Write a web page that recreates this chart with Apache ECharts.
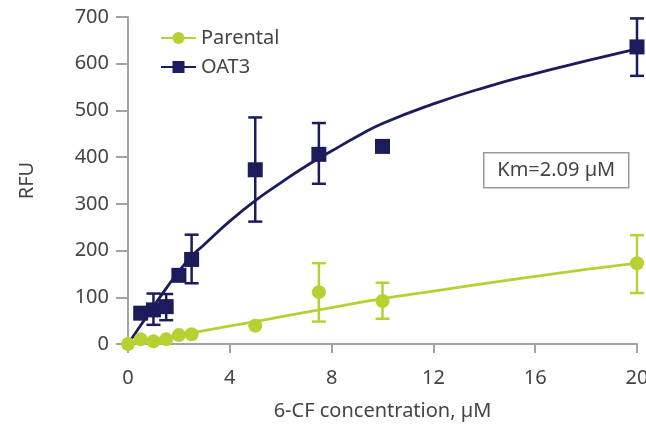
<!DOCTYPE html>
<html>
<head>
<meta charset="utf-8">
<script src="https://cdn.jsdelivr.net/npm/echarts@6/dist/echarts.min.js"></script>
<style>html,body{margin:0;padding:0;background:#fff;}#c{width:646px;height:426px;}</style>
</head>
<body>
<div id="c"></div>
<script>
// ---- data ----
const xTicks = [0, 4, 8, 12, 16, 20];
const yTicks = [0, 100, 200, 300, 400, 500, 600, 700];

const parentalX    = [0, 0.5, 1, 1.5, 2, 2.5, 5, 7.5, 10, 20];
const parentalMean = [0, 10, 6, 10, 19, 21, 39, 111, 92, 173];
const parentalLow  = [null, null, null, null, null, null, null, 48, 54, 109];
const parentalHigh = [null, null, null, null, null, null, null, 173, 131, 233];

const oat3X    = [0.5, 1, 1.5, 2, 2.5, 5, 7.5, 10, 20];
const oat3Mean = [66, 73, 80, 147, 181, 373, 406, 423, 636];
const oat3Low  = [null, 41, 51, null, 130, 262, 343, 415, 574];
const oat3High = [null, 108, 107, null, 234, 485, 473, 431, 697];

// fitted curves
const parentalFitX = [0, 2.5, 5, 7.5, 10, 12, 16, 20];
const parentalFitY = [0, 24, 48, 73, 97, 113, 145, 173];
const oat3FitX = [0, 0.5, 1, 1.5, 2, 2.5, 3, 4, 5, 6, 7, 8, 9, 10, 12, 14, 16, 18, 20];
const oat3FitY = [0, 40, 80, 119, 156, 188, 213, 263, 307, 345, 381, 413, 444, 472, 514, 549, 579, 606, 632];

const kmText = 'Km=2.09 µM';
const xName = '6-CF concentration, µM';
const yName = 'RFU';

const GREEN = '#b6d232';
const NAVY = '#1c1b5b';
const AXIS = '#a3a3a3';
const TEXT = '#444444';
const FONT = 'Noto Sans';

function zip(a, b) { return a.map((v, i) => [v, b[i]]); }
function errData(x, lo, hi) {
  const out = [];
  x.forEach((v, i) => { if (lo[i] != null && hi[i] != null) out.push([v, lo[i], hi[i]]); });
  return out;
}
function errRender(color) {
  return function (params, api) {
    const x = api.value(0), lo = api.value(1), hi = api.value(2);
    const p1 = api.coord([x, lo]), p2 = api.coord([x, hi]);
    const w = 7;
    const st = { stroke: color, lineWidth: 2.5 };
    return {
      type: 'group',
      children: [
        { type: 'line', shape: { x1: p1[0], y1: p1[1], x2: p2[0], y2: p2[1] }, style: st },
        { type: 'line', shape: { x1: p1[0] - w, y1: p1[1], x2: p1[0] + w, y2: p1[1] }, style: st },
        { type: 'line', shape: { x1: p2[0] - w, y1: p2[1], x2: p2[0] + w, y2: p2[1] }, style: st }
      ]
    };
  };
}

const chart = echarts.init(document.getElementById('c'), null, { renderer: 'canvas' });
chart.setOption({
  backgroundColor: '#ffffff',
  animation: false,
  textStyle: { fontFamily: FONT },
  grid: { left: 128, right: 9, top: 17, bottom: 82, containLabel: false, outerBoundsMode: 'none' },
  legend: {
    orient: 'vertical',
    left: 155,
    top: 23,
    itemWidth: 35,
    itemHeight: 15,
    itemGap: 9,
    data: ['Parental', 'OAT3'],
    textStyle: { fontSize: 20, color: TEXT, fontFamily: FONT }
  },
  xAxis: {
    type: 'value',
    min: 0, max: 20, interval: 4,
    name: xName,
    nameLocation: 'middle',
    nameGap: 57,
    nameTextStyle: { fontSize: 20, color: TEXT, fontFamily: FONT },
    axisLine: { show: true, onZero: false, lineStyle: { color: AXIS, width: 2 } },
    axisTick: { show: true, length: 9, lineStyle: { color: AXIS, width: 2 } },
    axisLabel: { fontSize: 20, color: TEXT, margin: 24, fontFamily: FONT, hideOverlap: false,
      formatter: v => xTicks.includes(v) ? String(v) : '' },
    splitLine: { show: false }
  },
  yAxis: {
    type: 'value',
    min: 0, max: 700, interval: 100,
    name: yName,
    nameLocation: 'middle',
    nameRotate: 90,
    nameGap: 91,
    nameTextStyle: { fontSize: 20, color: TEXT, fontFamily: FONT },
    axisLine: { show: true, lineStyle: { color: AXIS, width: 2 } },
    axisTick: { show: true, length: 12, lineStyle: { color: AXIS, width: 2 } },
    axisLabel: { fontSize: 20, color: TEXT, margin: 19, fontFamily: FONT,
      formatter: v => yTicks.includes(v) ? String(v) : '' },
    splitLine: { show: false }
  },
  graphic: [{
    type: 'group',
    left: 483, top: 152,
    children: [
      { type: 'rect', shape: { x: 0, y: 0, width: 145, height: 35 },
        style: { fill: '#ffffff', stroke: '#9a9a9a', lineWidth: 1.5 } },
      { type: 'text', x: 72.5, y: 18,
        style: { text: kmText, fill: TEXT, font: '20px "Noto Sans"', align: 'center', verticalAlign: 'middle' } }
    ]
  }],
  series: [
    {
      name: 'Parental', type: 'line', data: zip(parentalFitX, parentalFitY),
      smooth: true, symbol: 'circle', showSymbol: false, symbolSize: 14,
      lineStyle: { color: GREEN, width: 2.8 }, itemStyle: { color: GREEN }, z: 2, silent: true
    },
    {
      name: 'OAT3', type: 'line', data: zip(oat3FitX, oat3FitY),
      smooth: true, symbol: 'rect', showSymbol: false, symbolSize: 15,
      lineStyle: { color: NAVY, width: 2.8 }, itemStyle: { color: NAVY }, z: 2, silent: true
    },
    {
      name: 'Parental', type: 'custom', renderItem: errRender(GREEN),
      data: errData(parentalX, parentalLow, parentalHigh), encode: { x: 0, y: [1, 2] }, z: 3
    },
    {
      name: 'OAT3', type: 'custom', renderItem: errRender(NAVY),
      data: errData(oat3X, oat3Low, oat3High), encode: { x: 0, y: [1, 2] }, z: 3
    },
    {
      name: 'Parental', type: 'scatter', data: zip(parentalX, parentalMean),
      symbol: 'circle', symbolSize: 14, itemStyle: { color: GREEN, opacity: 1 }, z: 4
    },
    {
      name: 'OAT3', type: 'scatter', data: zip(oat3X, oat3Mean),
      symbol: 'rect', symbolSize: 15, itemStyle: { color: NAVY, opacity: 1 }, z: 4
    }
  ]
});
</script>
</body>
</html>
